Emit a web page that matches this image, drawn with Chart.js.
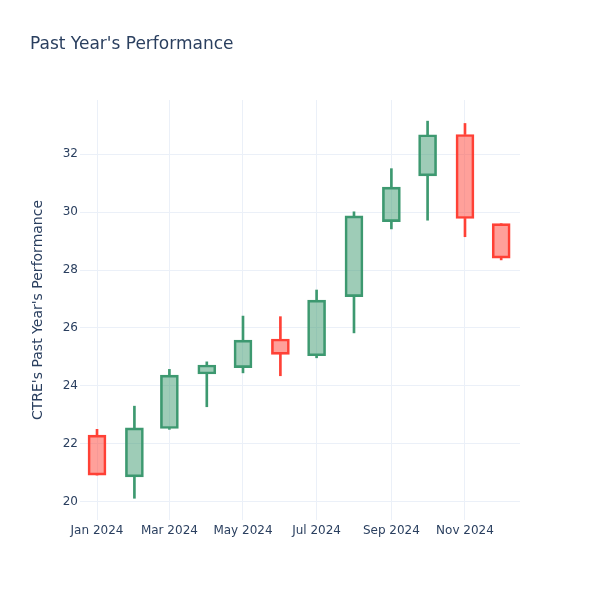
<!DOCTYPE html>
<html lang="en">
<head>
    <meta charset="UTF-8">
    <title>Past Year's Performance</title>
    <script src="https://cdn.jsdelivr.net/npm/chart.js"></script>
    <style>
        body { margin: 0; background: #fff; }
    </style>
</head>
<body>
    <canvas id="candleChart" width="600" height="600"></canvas>

    <script>
        // monthly candles
        const months = ['2024-01-01', '2024-02-01', '2024-03-01', '2024-04-01', '2024-05-01', '2024-06-01',
                        '2024-07-01', '2024-08-01', '2024-09-01', '2024-10-01', '2024-11-01', '2024-12-01'];
        const open  = [22.30, 20.86, 22.53, 24.41, 24.63, 25.62, 25.04, 27.08, 29.67, 31.25, 32.68, 29.60];
        const high  = [22.50, 23.30, 24.57, 24.83, 26.41, 26.39, 27.31, 30.01, 31.50, 33.14, 33.06, 29.60];
        const low   = [20.92, 20.12, 22.50, 23.28, 24.45, 24.35, 24.97, 25.83, 29.42, 29.72, 29.15, 28.35];
        const close = [20.92, 22.55, 24.37, 24.72, 25.58, 25.09, 26.96, 29.87, 30.86, 32.67, 29.78, 28.41];

        const yTicks = [20, 22, 24, 26, 28, 30, 32];
        const xTickDates = ['2024-01-01', '2024-03-01', '2024-05-01', '2024-07-01', '2024-09-01', '2024-11-01'];
        const monthNames = ['Jan', 'Feb', 'Mar', 'Apr', 'May', 'Jun', 'Jul', 'Aug', 'Sep', 'Oct', 'Nov', 'Dec'];

        const upLine = '#3D9970', upFill = 'rgba(61, 153, 112, 0.5)';
        const downLine = '#FF4136', downFill = 'rgba(255, 65, 54, 0.5)';
        const textColor = '#2a3f5f';
        const gridColor = '#EBF0F8';
        const fontFamily = 'DejaVu Sans';

        // days since Jan 1 2024, used as the linear x value
        const base = Date.UTC(2024, 0, 1);
        const toDay = s => {
            const [y, m, d] = s.split('-').map(Number);
            return (Date.UTC(y, m - 1, d) - base) / 86400000;
        };
        const dayToLabel = day => {
            const dt = new Date(base + day * 86400000);
            return monthNames[dt.getUTCMonth()] + ' ' + dt.getUTCFullYear();
        };

        const xs = months.map(toDay);
        const isUp = open.map((o, i) => close[i] >= o);

        const bodies = xs.map((x, i) => ({ x: x, y: [open[i], close[i]] }));
        const upperWicks = xs.map((x, i) => ({ x: x, y: [Math.max(open[i], close[i]), high[i]] }));
        const lowerWicks = xs.map((x, i) => ({ x: x, y: [low[i], Math.min(open[i], close[i])] }));
        const lineColors = isUp.map(u => u ? upLine : downLine);
        const fillColors = isUp.map(u => u ? upFill : downFill);

        const ctx = document.getElementById('candleChart').getContext('2d');
        new Chart(ctx, {
            type: 'bar',
            data: {
                datasets: [
                    {
                        label: 'body',
                        data: bodies,
                        backgroundColor: fillColors,
                        borderColor: lineColors,
                        borderWidth: 2,
                        borderSkipped: false,
                        barThickness: 18
                    },
                    {
                        label: 'upper',
                        data: upperWicks,
                        backgroundColor: lineColors,
                        borderWidth: 0,
                        barThickness: 2
                    },
                    {
                        label: 'lower',
                        data: lowerWicks,
                        backgroundColor: lineColors,
                        borderWidth: 0,
                        barThickness: 2
                    }
                ]
            },
            options: {
                responsive: false,
                animation: false,
                grouped: false,
                layout: { padding: { left: 30, right: 80, top: 0, bottom: 0 } },
                plugins: {
                    legend: { display: false },
                    tooltip: { enabled: false },
                    title: {
                        display: true,
                        text: "Past Year's Performance",
                        align: 'start',
                        color: textColor,
                        font: { family: fontFamily, size: 17, weight: 'normal' },
                        padding: { top: 34, bottom: 45.6 }
                    }
                },
                scales: {
                    x: {
                        type: 'linear',
                        min: -14.1,
                        max: 350.6,
                        offset: false,
                        grid: { color: gridColor, drawTicks: false, offset: false },
                        border: { display: false },
                        afterBuildTicks: s => { s.ticks = xTickDates.map(d => ({ value: toDay(d) })); },
                        afterFit: s => { s.height = 80; },
                        ticks: {
                            color: textColor,
                            font: { family: fontFamily, size: 12 },
                            padding: 4,
                            maxRotation: 0,
                            autoSkip: false,
                            callback: v => dayToLabel(v)
                        }
                    },
                    y: {
                        min: 19.37,
                        max: 33.87,
                        grid: { color: gridColor, drawTicks: false },
                        border: { display: false },
                        afterBuildTicks: s => { s.ticks = yTicks.map(v => ({ value: v })); },
                        afterFit: s => { s.width = 50; },
                        title: {
                            display: true,
                            text: "CTRE's Past Year's Performance",
                            color: textColor,
                            font: { family: fontFamily, size: 14 },
                            padding: { top: 0, bottom: 0 }
                        },
                        ticks: {
                            color: textColor,
                            font: { family: fontFamily, size: 12 },
                            padding: 2
                        }
                    }
                }
            }
        });
    </script>
</body>
</html>
